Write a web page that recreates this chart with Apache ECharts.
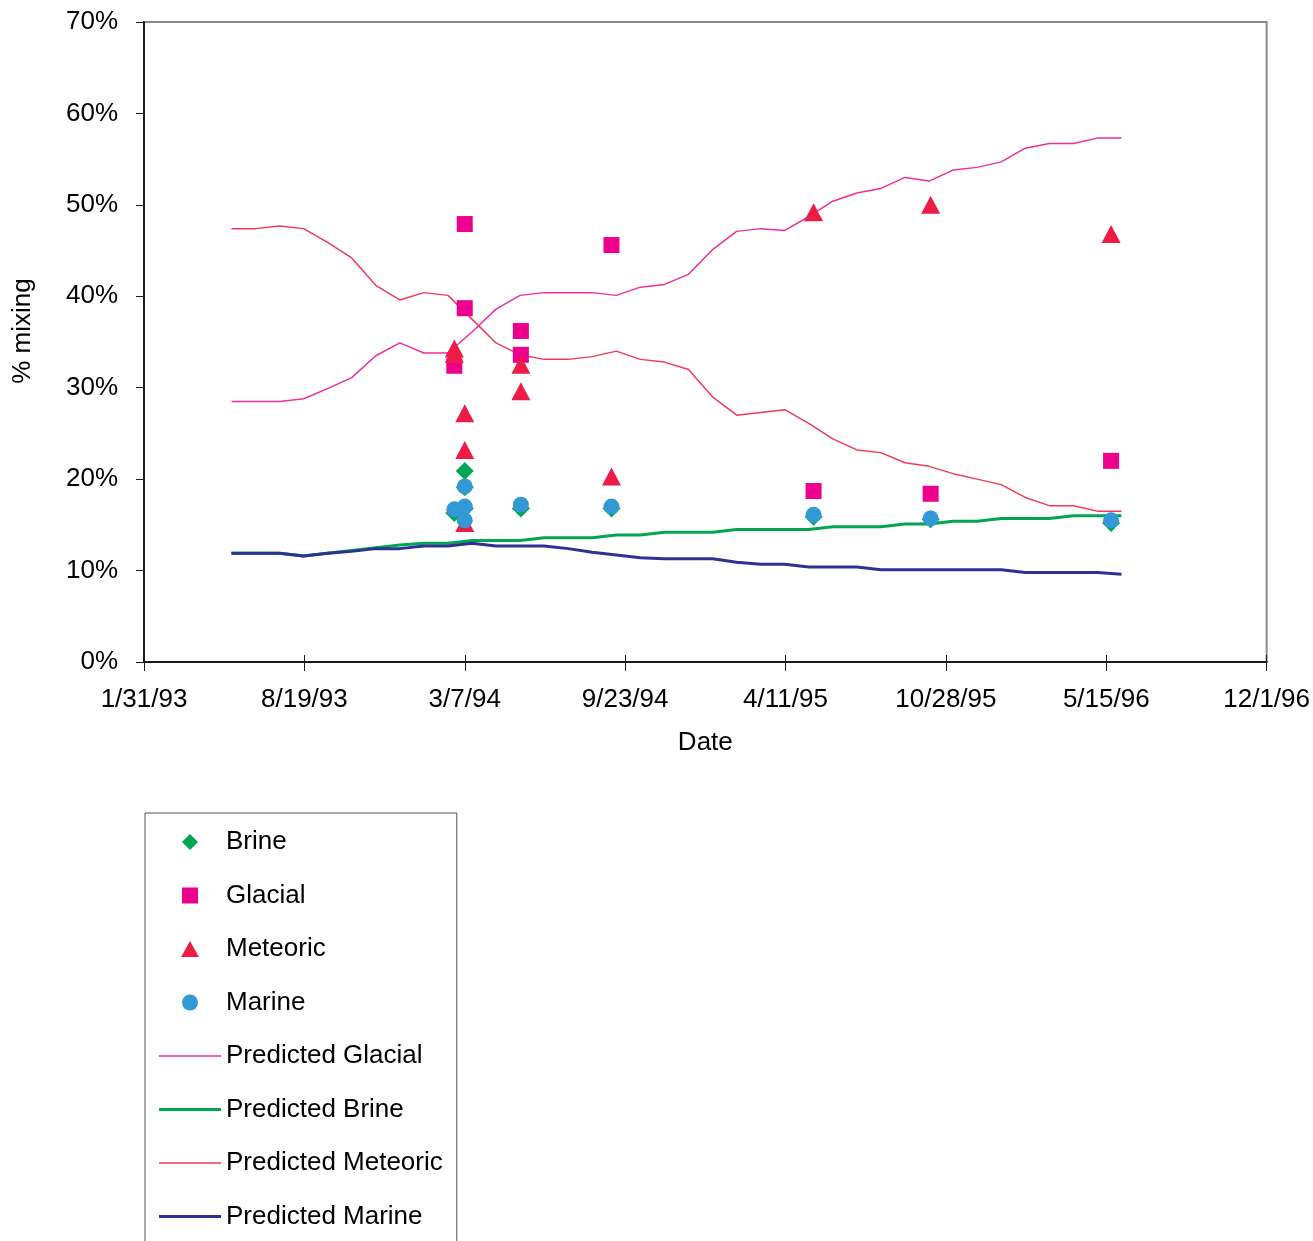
<!DOCTYPE html>
<html>
<head>
<meta charset="utf-8">
<script src="https://cdn.jsdelivr.net/npm/echarts@6/dist/echarts.min.js"></script>
<style>
  html, body { margin: 0; padding: 0; background: #ffffff; overflow: hidden; }
  #chart { width: 1313px; height: 1241px; }
</style>
</head>
<body>
<div id="chart"></div>
<script>
// ---- Measured samples (percent mixing) ----
const brineDates    = ['1994-03-07','1994-03-07','1994-03-07','1994-02-22','1994-05-16','1994-09-06','1995-05-16','1995-10-09','1996-05-21'];
const brineValues   = [20.9, 19.1, 16.8, 16.3, 16.8, 16.8, 15.9, 15.6, 15.2];

const glacialDates  = ['1994-03-07','1994-03-07','1994-02-22','1994-05-16','1994-05-16','1994-09-06','1995-05-16','1995-10-09','1996-05-21'];
const glacialValues = [47.9, 38.7, 32.4, 36.2, 33.6, 45.6, 18.7, 18.4, 22.0];

const meteoricDates  = ['1994-02-22','1994-02-22','1994-03-07','1994-03-07','1994-03-07','1994-05-16','1994-05-16','1994-09-06','1995-05-16','1995-10-09','1996-05-21'];
const meteoricValues = [34.3, 33.7, 27.2, 23.2, 15.2, 32.5, 29.6, 20.3, 49.2, 50.0, 46.8];

const marineDates   = ['1994-03-07','1994-02-22','1994-03-07','1994-03-07','1994-05-16','1994-09-06','1995-05-16','1995-10-09','1996-05-21'];
const marineValues  = [19.2, 16.7, 17.0, 15.5, 17.2, 17.0, 16.1, 15.7, 15.5];

// ---- Model predictions ----
const predDates = [
  '1993-05-20','1993-06-19','1993-07-19','1993-08-18','1993-09-17','1993-10-17','1993-11-16','1993-12-16',
  '1994-01-15','1994-02-14','1994-03-16','1994-04-15','1994-05-15','1994-06-14','1994-07-14','1994-08-13',
  '1994-09-12','1994-10-12','1994-11-11','1994-12-11','1995-01-10','1995-02-09','1995-03-11','1995-04-10',
  '1995-05-10','1995-06-09','1995-07-09','1995-08-08','1995-09-07','1995-10-07','1995-11-06','1995-12-06',
  '1996-01-05','1996-02-04','1996-03-05','1996-04-04','1996-05-04','1996-06-03'
];
const predGlacial  = [28.5,28.5,28.5,28.8,29.9,31.1,33.5,34.9,33.8,33.8,36.1,38.6,40.1,40.4,40.4,40.4,40.1,41.0,41.3,42.4,
                      45.1,47.1,47.4,47.2,48.7,50.4,51.3,51.8,53.0,52.6,53.8,54.1,54.7,56.2,56.7,56.7,57.3,57.3];
const predBrine    = [11.9,11.9,11.9,11.6,11.9,12.2,12.5,12.8,13.0,13.0,13.3,13.3,13.3,13.6,13.6,13.6,13.9,13.9,14.2,14.2,
                      14.2,14.5,14.5,14.5,14.5,14.8,14.8,14.8,15.1,15.1,15.4,15.4,15.7,15.7,15.7,16.0,16.0,16.0];
const predMeteoric = [47.4,47.4,47.7,47.4,45.9,44.2,41.2,39.6,40.4,40.1,37.5,34.9,33.6,33.1,33.1,33.4,34.0,33.1,32.8,32.0,
                      29.0,27.0,27.3,27.6,26.1,24.4,23.2,22.9,21.8,21.4,20.6,20.0,19.4,18.0,17.1,17.1,16.5,16.5];
const predMarine   = [11.9,11.9,11.9,11.6,11.9,12.1,12.4,12.4,12.7,12.7,13.0,12.7,12.7,12.7,12.4,12.0,11.7,11.4,11.3,11.3,
                      11.3,10.9,10.7,10.7,10.4,10.4,10.4,10.1,10.1,10.1,10.1,10.1,10.1,9.8,9.8,9.8,9.8,9.6];

// Date axis: days counted from 1/31/93, ticks every 200 days
const AXIS_START = Date.UTC(1993, 0, 31);
const DAY_MS = 86400000;
const xMin = 0, xMax = 1400, xStep = 200;
const yMin = 0, yMax = 70, yStep = 10;

function dayOf(s) {
  const p = s.split('-').map(Number);
  return (Date.UTC(p[0], p[1] - 1, p[2]) - AXIS_START) / DAY_MS;
}
function dateLabel(v) {
  const t = new Date(AXIS_START + v * DAY_MS);
  return (t.getUTCMonth() + 1) + '/' + t.getUTCDate() + '/' + String(t.getUTCFullYear() % 100).padStart(2, '0');
}
function pairs(dates, values) {
  return dates.map((d, i) => [dayOf(d), values[i]]);
}

const FONT = 'Liberation Sans, Arial, Helvetica, sans-serif';
const AXIS_COLOR = '#1a1a1a';

// Legend glyphs (kept at their own aspect inside the legend item box)
const ICON_DIAMOND  = 'path://M9,0 L18,9 L9,18 L0,9 Z';
const ICON_SQUARE   = 'path://M0,0 L16,0 L16,16 L0,16 Z';
const ICON_TRIANGLE = 'path://M10,0 L20,18 L0,18 Z';
const ICON_THICK    = 'path://M0,0 L62,0 L62,3 L0,3 Z';
const ICON_THIN     = 'path://M0,0 L124,0 L124,3 L0,3 Z';

const lineSeries = (name, values, color, width) => ({
  name, type: 'line', data: pairs(predDates, values),
  symbol: 'none', showSymbol: false, z: 2,
  lineStyle: { color, width }, itemStyle: { color },
  emphasis: { disabled: true }, animation: false
});
const scatterSeries = (name, dates, values, symbol, size, color, z) => ({
  name, type: 'scatter', data: pairs(dates, values),
  symbol, symbolSize: size, z,
  itemStyle: { color, opacity: 1 },
  emphasis: { disabled: true }, animation: false
});

const chart = echarts.init(document.getElementById('chart'), null, { renderer: 'canvas' });
chart.setOption({
  backgroundColor: '#ffffff',
  animation: false,
  textStyle: { fontFamily: FONT },
  grid: {
    left: 144, right: 43, top: 22, bottom: 579,
    show: true, borderColor: '#8a8a8a', borderWidth: 2, backgroundColor: 'transparent'
  },
  xAxis: [
    {
      type: 'value', min: xMin, max: xMax, interval: xStep,
      name: 'Date', nameLocation: 'middle', nameGap: 68,
      nameTextStyle: { fontSize: 26, color: '#000', fontFamily: FONT },
      axisLine: { show: true, onZero: false, lineStyle: { color: AXIS_COLOR, width: 2 } },
      axisTick: { show: true, length: 9, lineStyle: { color: AXIS_COLOR, width: 1 } },
      axisLabel: { formatter: dateLabel, fontSize: 26, color: '#000', margin: 25, fontFamily: FONT },
      splitLine: { show: false }
    },
    {
      type: 'value', min: xMin, max: xMax, interval: xStep, position: 'bottom',
      axisLine: { show: false },
      axisTick: { show: true, inside: true, length: 7, lineStyle: { color: AXIS_COLOR, width: 1 } },
      axisLabel: { show: false },
      splitLine: { show: false }
    }
  ],
  yAxis: {
    type: 'value', min: yMin, max: yMax, interval: yStep,
    name: '% mixing', nameLocation: 'middle', nameGap: 108, nameRotate: 90,
    nameTextStyle: { fontSize: 26, color: '#000', fontFamily: FONT, padding: [0, 0, 0, 22] },
    axisLine: { show: true, lineStyle: { color: AXIS_COLOR, width: 2 } },
    axisTick: { show: true, length: 8, lineStyle: { color: AXIS_COLOR, width: 1 } },
    axisLabel: { formatter: '{value}%', fontSize: 26, color: '#000', margin: 26, fontFamily: FONT },
    splitLine: { show: false }
  },
  legend: {
    orient: 'vertical', left: 145, top: 813, height: 600,
    itemWidth: 62, itemHeight: 16, itemGap: 27.5,
    padding: [16, 14, 40, 14],
    borderColor: '#555', borderWidth: 1, backgroundColor: '#fff',
    selectedMode: false, symbolKeepAspect: true,
    textStyle: { fontSize: 26, color: '#000', fontFamily: FONT, lineHeight: 26 },
    data: [
      { name: 'Brine', icon: ICON_DIAMOND },
      { name: 'Glacial', icon: ICON_SQUARE },
      { name: 'Meteoric', icon: ICON_TRIANGLE },
      { name: 'Marine', icon: 'circle' },
      { name: 'Predicted Glacial', icon: ICON_THIN },
      { name: 'Predicted Brine', icon: ICON_THICK },
      { name: 'Predicted Meteoric', icon: ICON_THIN },
      { name: 'Predicted Marine', icon: ICON_THICK }
    ]
  },
  series: [
    lineSeries('Predicted Glacial', predGlacial, '#ee2e9c', 1.5),
    lineSeries('Predicted Brine', predBrine, '#00a651', 3),
    lineSeries('Predicted Meteoric', predMeteoric, '#f03a58', 1.5),
    lineSeries('Predicted Marine', predMarine, '#2e3192', 3),
    scatterSeries('Brine', brineDates, brineValues, 'diamond', 18, '#00a651', 5),
    scatterSeries('Glacial', glacialDates, glacialValues, 'rect', 16, '#ec008c', 6),
    scatterSeries('Meteoric', meteoricDates, meteoricValues, 'triangle', [19, 18], '#ed1c45', 7),
    scatterSeries('Marine', marineDates, marineValues, 'circle', 16, '#3398d6', 8)
  ]
});
</script>
</body>
</html>
